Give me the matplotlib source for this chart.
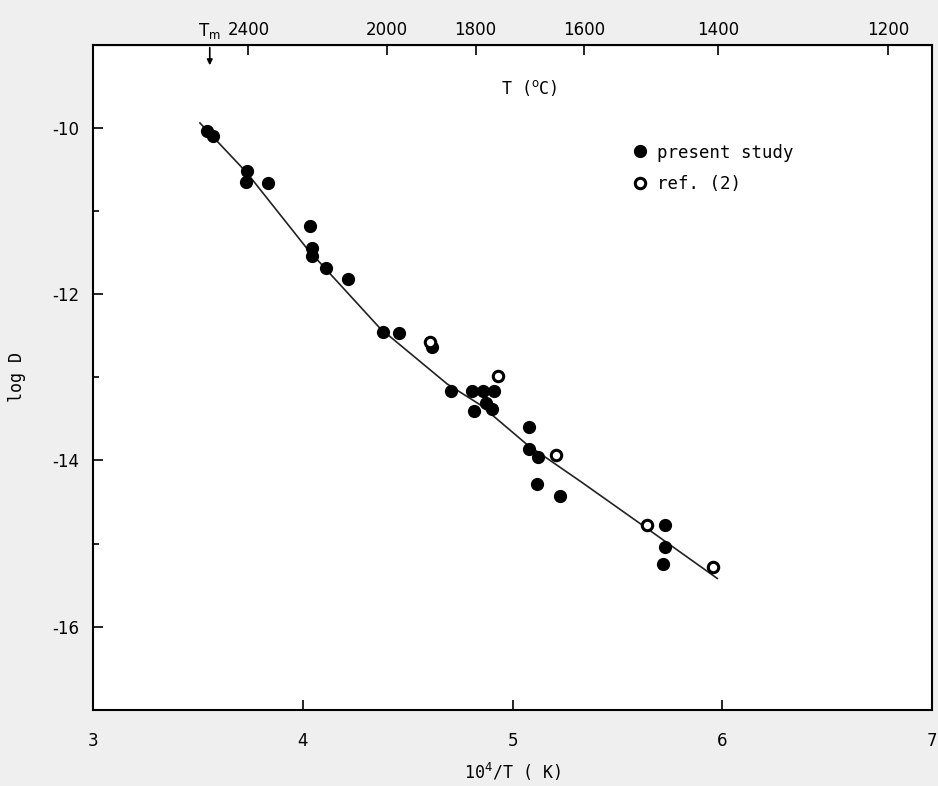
import numpy as np
import matplotlib
matplotlib.use("Agg")
import matplotlib.pyplot as plt
from matplotlib.ticker import MultipleLocator

plt.rcParams["axes.unicode_minus"] = False

# present study (filled)
x_present = [3.543, 3.572, 3.734, 3.729, 3.834, 4.035, 4.044, 4.044, 4.111, 4.216,
             4.383, 4.459, 4.616, 4.707, 4.807, 4.859, 4.912, 4.816, 4.874, 4.902,
             5.079, 5.079, 5.122, 5.117, 5.226, 5.727, 5.727, 5.718]
y_present = [-10.04, -10.10, -10.52, -10.65, -10.66, -11.18, -11.45, -11.54, -11.69, -11.82,
             -12.46, -12.47, -12.64, -13.17, -13.17, -13.17, -13.17, -13.41, -13.31, -13.38,
             -13.60, -13.86, -13.96, -14.28, -14.43, -14.78, -15.04, -15.25]

# ref. (2) (open)
x_ref = [4.607, 4.931, 5.207, 5.641, 5.956]
y_ref = [-12.57, -12.98, -13.94, -14.78, -15.28]

# fitted curve
x_fit = [3.510, 3.734, 4.020, 4.368, 4.688, 4.845, 5.069, 5.322, 5.641, 5.975]
y_fit = [-9.94, -10.54, -11.45, -12.41, -13.08, -13.33, -13.81, -14.25, -14.82, -15.42]

top_ticks = [2400, 2000, 1800, 1600, 1400, 1200]
x_tm = 3.557

mono = "DejaVu Sans Mono"

fig = plt.figure(figsize=(9.38, 7.86), dpi=100, facecolor="#efefef")
ax = fig.add_axes([0.099, 0.097, 0.895, 0.846])
ax.set_facecolor("white")

ax.plot(x_fit, y_fit, color="#222222", lw=1.2, zorder=2)
ax.plot(x_present, y_present, "o", color="black", ms=8.5, ls="none", zorder=3,
        label="present study")
ax.plot(x_ref, y_ref, "o", mfc="white", mec="black", mew=2.2, ms=7.5, ls="none",
        zorder=4, label="ref. (2)")

ax.set_xlim(3, 7)
ax.set_ylim(-17, -9)
ax.xaxis.set_major_locator(MultipleLocator(1))
ax.yaxis.set_minor_locator(MultipleLocator(1))
ax.set_yticks([-10, -12, -14, -16])
ax.tick_params(axis="x", direction="in", length=7, width=1.2, labelsize=12, pad=16)
ax.tick_params(axis="y", direction="in", length=7, width=1.2, labelsize=12, pad=10)
ax.tick_params(which="minor", direction="in", length=4, width=1.2)
for s in ax.spines.values():
    s.set_linewidth(1.5)

ax.set_xlabel("10$^4$/T ( K)", fontsize=12, family=mono, labelpad=8)
ax.set_ylabel("log D", fontsize=12, family=mono)
ax.yaxis.set_label_coords(-0.08, 0.5)

top = ax.secondary_xaxis("top", functions=(lambda x: 1e4 / np.asarray(x, float) - 273,
                                          lambda t: 1e4 / (np.asarray(t, float) + 273)))
top.set_xticks(top_ticks)
top.tick_params(direction="in", length=7, width=1.2, labelsize=12, pad=4)
ax.text(0.52, 0.935, "T ($^\\mathrm{o}$C)", transform=ax.transAxes, fontsize=12,
        family=mono, ha="center", va="center")

ax.text(x_tm, -8.95, "T$_\\mathrm{m}$", fontsize=12, ha="center", va="bottom", clip_on=False)
ax.annotate("", xy=(x_tm, -9.28), xytext=(x_tm, -9.0),
            arrowprops=dict(arrowstyle="-|>", color="black", lw=1.2, mutation_scale=8),
            annotation_clip=False)

ax.legend(loc="upper left", bbox_to_anchor=(0.625, 0.875), frameon=False,
          prop={"family": mono, "size": 12.5},
          handlelength=0.8, handletextpad=0.6, labelspacing=0.8, numpoints=1)

fig.savefig("out.png", dpi=100, facecolor=fig.get_facecolor())
